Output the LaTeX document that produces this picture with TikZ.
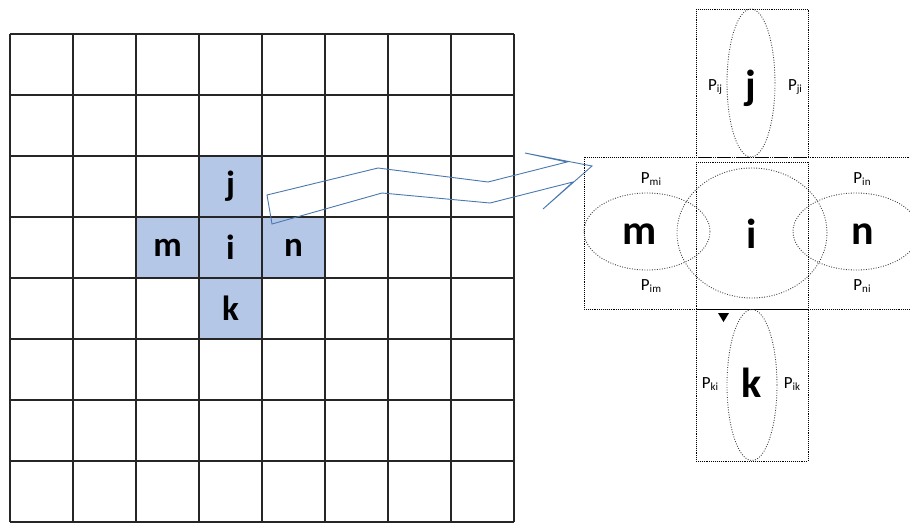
\documentclass[tikz,border=0pt]{standalone}
\usepackage{fontspec}
\setmainfont{Carlito}
\usetikzlibrary{shapes.geometric}
\definecolor{cellblue}{HTML}{B4C7E7}
\definecolor{arrowblue}{HTML}{4A78AE}
\newcommand{\plab}[1]{P\raisebox{-0.3ex}{\fontsize{11}{11}\selectfont #1}}
\begin{document}
\begin{tikzpicture}[x=1pt,y=-1pt,
  cell/.style={rectangle,minimum width=63pt,minimum height=61pt,inner sep=0pt,fill=cellblue,
    font=\fontsize{35}{35}\selectfont\bfseries},
  gridline/.style={line width=1.6pt,black!85},
  dotbox/.style={densely dotted,line width=0.9pt,black},
  oval/.style={ellipse,draw=black!75,dash pattern=on 0.9pt off 1.6pt,line width=0.9pt,inner sep=0pt},
  bigletter/.style={font=\fontsize{42}{42}\selectfont\bfseries,inner sep=0pt},
  plabel/.style={font=\fontsize{17}{17}\selectfont,inner sep=0pt},
  zigzag/.style={draw=arrowblue,line width=0.9pt,line join=miter}]
\useasboundingbox (0,0) rectangle (910,523);
\clip (0,0) rectangle (910,523);

% highlighted stencil cells
\node[cell] (cj) at (230.5,186.5) {j};
\node[cell] (cm) at (167.5,247.5) {m};
\node[cell] (ci) at (230.5,247.5) {i};
\node[cell] (cn) at (293.5,247.5) {n};
\node[cell] (ck) at (230.5,308.5) {k};

% 8 x 8 grid
\foreach \c in {0,...,8} \draw[gridline] (10+63*\c,34) -- (10+63*\c,522);
\foreach \r in {0,...,8} \draw[gridline] (10,34+61*\r) -- (514,34+61*\r);

% wide zig-zag arrow
\draw[zigzag] (267,195) -- (378,168) -- (488,182) -- (567,162) -- (525,153) -- (592,166)
  -- (543,209) -- (573,182) -- (490,203) -- (382,193) -- (272,224) -- cycle;

% dotted boxes of the enlarged stencil
\draw[dotbox] (696,9) rectangle (808,157);
\draw[dotbox] (584,157) rectangle (930,309);
\draw[dotbox] (696,162) rectangle (808,309);
\draw[dotbox] (696,309) rectangle (808,461);

% dotted ellipses
\node[oval,minimum width=48pt,minimum height=148pt] (ej) at (751,83) {};
\node[oval,minimum width=150pt,minimum height=130pt] (ei) at (752,233) {};
\node[oval,minimum width=126pt,minimum height=77pt] (em) at (647,231.5) {};
\node[oval,minimum width=126pt,minimum height=77pt] (en) at (856,231.5) {};
\node[oval,minimum width=50pt,minimum height=151pt] (ek) at (752,385) {};

% cell letters
\node[bigletter] (lj) at (751,88) {j};
\node[bigletter] (lm) at (640,234) {m};
\node[bigletter] (li) at (752,234) {i};
\node[bigletter] (ln) at (863,234) {n};
\node[bigletter] (lk) at (752,383) {k};

% transfer labels
\node[plabel] (pij) at (715,87) {\plab{ij}};
\node[plabel] (pji) at (795,87) {\plab{ji}};
\node[plabel] (pmi) at (651,179) {\plab{mi}};
\node[plabel] (pim) at (651,286) {\plab{im}};
\node[plabel] (pin) at (862,179) {\plab{in}};
\node[plabel] (pni) at (862,286) {\plab{ni}};
\node[plabel] (pki) at (710,384) {\plab{ki}};
\node[plabel] (pik) at (792,384) {\plab{ik}};

% small marker below the centre box
\fill[black] (718,313) -- (729,313) -- (723.5,322) -- cycle;
\end{tikzpicture}
\end{document}
